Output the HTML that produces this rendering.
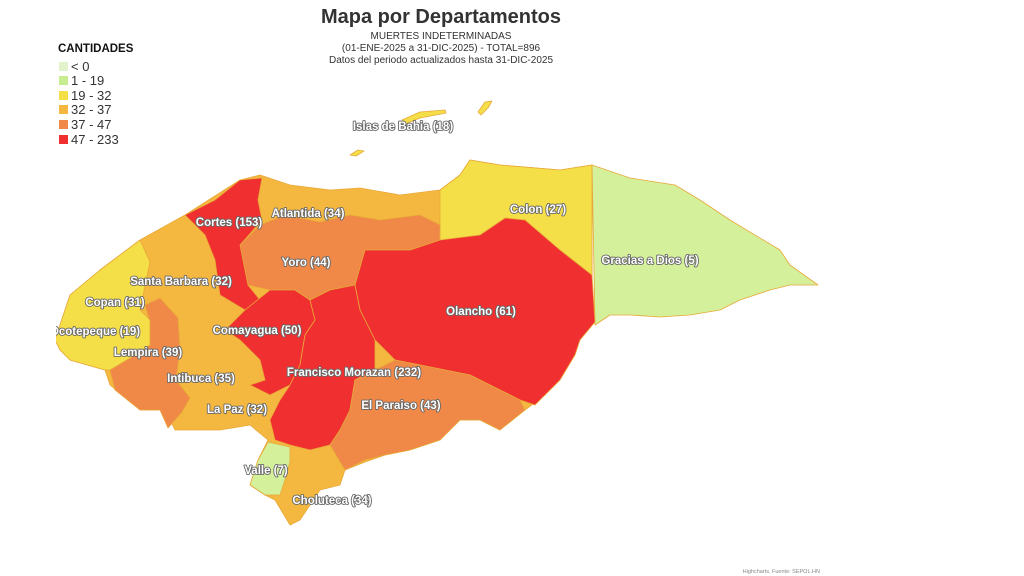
<!DOCTYPE html>
<html><head><meta charset="utf-8"><style>
html,body{margin:0;padding:0;background:#fff;width:1024px;height:576px;overflow:hidden;font-family:"Liberation Sans","DejaVu Sans",sans-serif}
</style></head><body>
<svg width="1024" height="576" viewBox="0 0 1024 576" xmlns="http://www.w3.org/2000/svg" font-family="Liberation Sans, DejaVu Sans, sans-serif">
<text x="441" y="23" text-anchor="middle" font-size="20" font-weight="bold" fill="#333">Mapa por Departamentos</text>
<text x="441" y="39" text-anchor="middle" font-size="10" fill="#333">MUERTES INDETERMINADAS</text>
<text x="441" y="51" text-anchor="middle" font-size="10" fill="#333">(01-ENE-2025 a 31-DIC-2025) - TOTAL=896</text>
<text x="441" y="63" text-anchor="middle" font-size="10" fill="#333">Datos del periodo actualizados hasta 31-DIC-2025</text>
<text x="58" y="52" font-size="11.5" font-weight="bold" fill="#111">CANTIDADES</text>
<g font-size="13" fill="#333">
<rect x="59" y="62" width="9" height="9" fill="#e2f3cc"/><text x="71" y="71">&lt; 0</text>
<rect x="59" y="76" width="9" height="9" fill="#c8ec90"/><text x="71" y="85">1 - 19</text>
<rect x="59" y="91" width="9" height="9" fill="#f5df48"/><text x="71" y="100">19 - 32</text>
<rect x="59" y="105" width="9" height="9" fill="#f4b840"/><text x="71" y="114">32 - 37</text>
<rect x="59" y="120" width="9" height="9" fill="#f08848"/><text x="71" y="129">37 - 47</text>
<rect x="59" y="135" width="9" height="9" fill="#f03030"/><text x="71" y="144">47 - 233</text>
</g>
<g stroke="#e8a838" stroke-width="0.8" stroke-linejoin="round">
<path fill="#f5df48" d="M402,120 L420,112 L445,110 L446,113 L420,118 L405,124Z M478,112 L485,102 L492,101 L488,108 L481,115Z M350,155 L358,150 L364,151 L356,156Z"/>
<path fill="#f4b840" d="M55,340 L70,295 L100,270 L140,240 L185,215 L240,180 L260,175 L290,185 L330,190 L360,188 L400,195 L440,190 L460,175 L470,160 L500,165 L560,170 L592,165 L592,320 L580,340 L560,380 L545,395 L525,410 L500,430 L480,420 L460,420 L440,440 L410,450 L385,455 L365,462 L345,470 L340,485 L320,490 L300,520 L290,525 L275,500 L265,495 L250,485 L258,460 L268,440 L250,425 L220,430 L175,430 L165,410 L140,410 L110,385 L105,370 L70,360 L60,350Z"/>
<path fill="#f5df48" d="M440,190 L460,175 L470,160 L500,165 L560,170 L592,165 L592,300 L585,270 L560,250 L525,220 L505,220 L480,235 L450,245 L440,240 L440,215Z"/>
<path fill="#d4f09a" d="M592,165 L630,178 L675,185 L700,200 L730,220 L780,250 L790,265 L818,285 L790,285 L770,290 L740,300 L720,310 L690,315 L660,317 L630,315 L610,315 L595,325 Z"/>
<path fill="#f08848" d="M240,245 L260,225 L285,215 L320,222 L350,215 L380,220 L420,215 L440,225 L440,240 L410,250 L365,250 L355,285 L330,290 L310,300 L295,290 L270,290 L248,285Z"/>
<path fill="#f03030" d="M365,250 L410,250 L440,240 L480,235 L505,218 L525,220 L560,250 L592,275 L595,322 L580,340 L575,355 L560,380 L545,395 L535,405 L520,400 L500,390 L470,375 L445,370 L420,365 L395,360 L375,340 L360,310 L355,285Z"/>
<path fill="#f03030" d="M185,215 L215,200 L240,180 L262,178 L258,200 L262,220 L240,245 L248,285 L260,300 L245,310 L220,295 L215,260 L205,235Z"/>
<path fill="#f03030" d="M245,310 L270,290 L295,290 L310,300 L315,320 L305,335 L300,365 L290,385 L270,395 L250,385 L265,380 L260,360 L240,340 L225,330Z"/>
<path fill="#f03030" d="M310,300 L330,290 L355,285 L360,310 L375,340 L375,370 L355,380 L350,410 L340,430 L330,445 L310,450 L290,445 L275,440 L270,420 L280,400 L290,385 L300,365 L305,335 L315,320Z"/>
<path fill="#f08848" d="M375,370 L395,360 L445,370 L470,375 L500,390 L520,400 L525,410 L500,430 L480,420 L460,420 L440,440 L410,450 L385,455 L365,460 L345,470 L330,445 L340,430 L350,410 L355,380Z"/>
<path fill="#d4f09a" d="M268,442 L290,447 L290,462 L285,480 L280,495 L265,495 L250,485 L258,460Z"/>
<path fill="#f08848" d="M145,305 L160,298 L178,318 L180,350 L176,380 L190,398 L182,412 L168,428 L160,410 L140,410 L115,390 L110,370 L135,355 L150,345 L150,322Z"/>
<path fill="#f5df48" d="M55,340 L70,295 L100,270 L140,240 L150,262 L140,310 L150,320 L150,345 L130,358 L110,370 L105,370 L70,360 L60,350Z"/>
</g>
<g font-size="11.5" font-weight="bold" fill="#fff" stroke="#666" stroke-width="1.8" paint-order="stroke" stroke-linejoin="round" text-anchor="middle">
<text x="403" y="130">Islas de Bahia (18)</text>
<text x="538" y="213">Colon (27)</text>
<text x="650" y="264">Gracias a Dios (5)</text>
<text x="481" y="315">Olancho (61)</text>
<text x="229" y="226">Cortes (153)</text>
<text x="308" y="217">Atlantida (34)</text>
<text x="306" y="266">Yoro (44)</text>
<text x="181" y="285">Santa Barbara (32)</text>
<text x="115" y="306">Copan (31)</text>
<text x="95" y="335">Ocotepeque (19)</text>
<text x="148" y="356">Lempira (39)</text>
<text x="257" y="334">Comayagua (50)</text>
<text x="354" y="376">Francisco Morazan (232)</text>
<text x="201" y="382">Intibuca (35)</text>
<text x="237" y="413">La Paz (32)</text>
<text x="401" y="409">El Paraiso (43)</text>
<text x="266" y="474">Valle (7)</text>
<text x="332" y="504">Choluteca (34)</text>
</g>
<rect x="0" y="320" width="56" height="25" fill="#fff"/>
<text x="820" y="573" text-anchor="end" font-size="5.5" fill="#888">Highcharts. Fuente: SEPOL.HN</text>
</svg>
</body></html>
